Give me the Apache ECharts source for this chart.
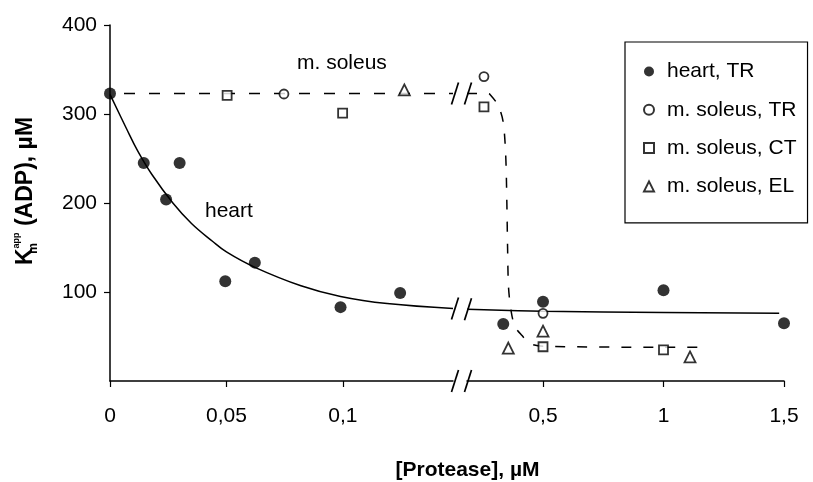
<!DOCTYPE html>
<html><head><meta charset="utf-8">
<script src="https://cdn.jsdelivr.net/npm/echarts@6/dist/echarts.min.js"></script>
<style>html,body{margin:0;padding:0;background:#fff}#c{width:813px;height:482px}</style>
</head><body><div id="c"></div>
<script>
// ---- data (x in µM protease, y = Km app (ADP) in µM) ----
const heartX = [0, 0.0145, 0.0241, 0.0299, 0.0495, 0.0622, 0.099, 0.1246, 0.335, 0.5, 1.0, 1.5];
const heartY = [323, 245, 204, 245, 112, 133, 83, 99, 64, 89, 102, 65];
const soleusTRX = [0.0747, 0.255, 0.5];
const soleusTRY = [322.5, 342, 76];
const soleusCTX = [0.0503, 0.0999, 0.255, 0.5, 1.0];
const soleusCTY = [321, 301, 308, 38.5, 35];
const soleusELX = [0.1264, 0.356, 0.5, 1.11];
const soleusELY = [327, 37, 56, 27];
// fitted curves
const heartFitLeftX = [0, 0.007, 0.012, 0.018, 0.027, 0.035, 0.044, 0.05, 0.062, 0.082, 0.099, 0.119, 0.1473];
const heartFitLeftY = [322, 284, 258, 232, 200, 177, 157, 145, 128, 107, 95, 87, 81.5];
const heartFitRightX = [0.1846, 0.5, 1.0, 1.48];
const heartFitRightY = [80.5, 78.5, 77, 76];
const soleusFitLeftX = [0, 0.1473];
const soleusFitLeftY = [323, 323];
const soleusFitRightX = [0.1846, 0.27, 0.28, 0.313, 0.334, 0.345, 0.35, 0.353, 0.357, 0.368, 0.384, 0.413, 0.446, 0.5, 1.0, 1.16];
const soleusFitRightY = [323, 323, 322, 310, 292, 255, 200, 150, 105, 78, 61, 51, 42, 39, 38, 38];
// axes
const xTicksLeft = [0, 0.05, 0.1];
const xTickLabelsLeft = ['0', '0,05', '0,1'];
const xTicksRight = [0.5, 1, 1.5];
const xTickLabelsRight = ['0,5', '1', '1,5'];
const yTicks = [100, 200, 300, 400];
const LEFT_MAX = 0.1473, RIGHT_MIN = 0.1846, RIGHT_MAX = 1.5;

const FONT = '"Liberation Sans", Arial, Helvetica, sans-serif';
const pairs = (xs, ys) => xs.map((x, i) => [x, ys[i]]);
const split = (xs, ys) => {
  const all = pairs(xs, ys);
  return [all.filter(p => p[0] <= LEFT_MAX), all.filter(p => p[0] > LEFT_MAX)];
};

const chart = echarts.init(document.getElementById('c'), null, {renderer: 'canvas'});

const markerDefs = [
  {name: 'heart, TR', xs: heartX, ys: heartY, symbol: 'circle', size: 12, itemStyle: {color: '#000', borderColor: '#000', borderWidth: 0}},
  {name: 'm. soleus, TR', xs: soleusTRX, ys: soleusTRY, symbol: 'circle', size: 9, itemStyle: {color: '#fff', borderColor: '#000', borderWidth: 1.8}},
  {name: 'm. soleus, CT', xs: soleusCTX, ys: soleusCTY, symbol: 'rect', size: 9, itemStyle: {color: '#fff', borderColor: '#000', borderWidth: 1.8}},
  {name: 'm. soleus, EL', xs: soleusELX, ys: soleusELY, symbol: 'triangle', size: 11, itemStyle: {color: '#fff', borderColor: '#000', borderWidth: 1.8}}
];

const series = [];
const lineBase = {type: 'line', showSymbol: false, symbol: 'none', silent: true, z: 2, animation: false};
series.push(Object.assign({}, lineBase, {name: 'heartFitL', xAxisIndex: 0, yAxisIndex: 0, smooth: 0.4,
  data: pairs(heartFitLeftX, heartFitLeftY), lineStyle: {color: '#000', width: 1.5}}));
series.push(Object.assign({}, lineBase, {name: 'heartFitR', xAxisIndex: 1, yAxisIndex: 1, smooth: 0.4,
  data: pairs(heartFitRightX, heartFitRightY), lineStyle: {color: '#000', width: 1.5}}));
series.push(Object.assign({}, lineBase, {name: 'soleusFitL', xAxisIndex: 0, yAxisIndex: 0,
  data: pairs(soleusFitLeftX, soleusFitLeftY), lineStyle: {color: '#000', width: 1.5, type: [11, 14], dashOffset: -14}}));
series.push(Object.assign({}, lineBase, {name: 'soleusFitR', xAxisIndex: 1, yAxisIndex: 1, smooth: 0.3,
  data: pairs(soleusFitRightX, soleusFitRightY), lineStyle: {color: '#000', width: 1.5, type: [10, 12]}}));

markerDefs.forEach(m => {
  const [l, r] = split(m.xs, m.ys);
  [[l, 0], [r, 1]].forEach(([d, gi]) => {
    series.push({type: 'scatter', name: m.name, xAxisIndex: gi, yAxisIndex: gi, data: d,
      symbol: m.symbol, symbolSize: m.size, itemStyle: m.itemStyle, z: 5, animation: false});
  });
});

const axisLabelStyle = {color: '#000', fontSize: 21, fontFamily: FONT};
const lineStyleAxis = {color: '#000', width: 1.5};

const option = {
  backgroundColor: '#fff',
  animation: false,
  grid: [
    {left: 110, top: 25, width: 343, bottom: 101, containLabel: false, outerBoundsMode: 'none'},
    {left: 467, top: 25, right: 29, bottom: 101, containLabel: false, outerBoundsMode: 'none'}
  ],
  xAxis: [
    {type: 'value', gridIndex: 0, min: 0, max: LEFT_MAX,
      axisLine: {show: true, lineStyle: lineStyleAxis},
      axisTick: {show: true, length: 6, customValues: xTicksLeft, lineStyle: {color: '#000', width: 1.2}},
      axisLabel: Object.assign({customValues: xTicksLeft, margin: 25,
        formatter: v => xTickLabelsLeft[xTicksLeft.indexOf(v)] ?? ''}, axisLabelStyle),
      splitLine: {show: false},
      name: '[Protease], µM', nameLocation: 'middle', nameGap: 79,
      nameTextStyle: {color: '#000', fontSize: 21, fontWeight: 'bold', fontFamily: FONT, padding: [0, 0, 0, 372]}
    },
    {type: 'value', gridIndex: 1, min: RIGHT_MIN, max: RIGHT_MAX,
      axisLine: {show: true, lineStyle: lineStyleAxis},
      axisTick: {show: true, length: 6, customValues: xTicksRight, lineStyle: {color: '#000', width: 1.2}},
      axisLabel: Object.assign({customValues: xTicksRight, margin: 25,
        formatter: v => xTickLabelsRight[xTicksRight.indexOf(v)] ?? ''}, axisLabelStyle),
      splitLine: {show: false}
    }
  ],
  yAxis: [
    {type: 'value', gridIndex: 0, min: 0, max: 400, interval: 100,
      axisLine: {show: true, lineStyle: lineStyleAxis},
      axisTick: {show: true, length: 6, customValues: yTicks, lineStyle: {color: '#000', width: 1.2}},
      axisLabel: Object.assign({customValues: yTicks, margin: 13}, axisLabelStyle),
      splitLine: {show: false},
      name: '{k|K}{sub|m}{sup|app}{t| (ADP), µM}', nameLocation: 'middle', nameGap: 70, nameRotate: 90,
      nameTextStyle: {color: '#000', fontFamily: FONT, padding: [0, 0, 0, 24],
        rich: {
          k: {fontSize: 23, fontWeight: 'bold', fontFamily: FONT, color: '#000', lineHeight: 28},
          sub: {fontSize: 12, fontWeight: 'bold', fontFamily: FONT, color: '#000', lineHeight: 10, verticalAlign: 'bottom', width: 0},
          sup: {fontSize: 9, fontWeight: 'bold', fontFamily: FONT, color: '#000', lineHeight: 10, verticalAlign: 'top'},
          t: {fontSize: 23, fontWeight: 'bold', fontFamily: FONT, color: '#000', lineHeight: 28}
        }}
    },
    {type: 'value', gridIndex: 1, min: 0, max: 400, interval: 100,
      axisLine: {show: false}, axisTick: {show: false}, axisLabel: {show: false}, splitLine: {show: false}}
  ],
  legend: {
    data: markerDefs.map(m => m.name),
    orient: 'vertical', left: 625, top: 42,
    itemWidth: 10, itemHeight: 10, itemGap: 17.3,
    padding: [19, 11, 26, 18],
    borderColor: '#000', borderWidth: 1.2, borderRadius: 0,
    selectedMode: false,
    textStyle: {color: '#000', fontSize: 21, fontFamily: FONT, lineHeight: 21, padding: [0, 0, 0, 8]}
  },
  series: series
};
chart.setOption(option);

// break marks, annotation labels
const g = [];
const slash = (x, y) => ({type: 'line', z: 20, silent: true,
  shape: {x1: x - 3.5, y1: y + 11, x2: x + 3.5, y2: y - 11}, style: {stroke: '#000', lineWidth: 1.7}});
const xl = chart.convertToPixel({gridIndex: 0}, [LEFT_MAX, 0])[0] + 2;
const xr = chart.convertToPixel({gridIndex: 1}, [RIGHT_MIN, 0])[0] + 1;
[[0, 0], [heartFitLeftY[heartFitLeftY.length - 1], heartFitRightY[0]], [soleusFitLeftY[1], soleusFitRightY[0]]].forEach(v => {
  const yl = chart.convertToPixel({gridIndex: 0}, [0, v[0]])[1];
  const yr = chart.convertToPixel({gridIndex: 1}, [RIGHT_MIN, v[1]])[1];
  g.push(slash(xl, yl));
  g.push(slash(xr, yr));
});
g.push({type: 'text', left: 297, top: 53, z: 20, style: {text: 'm. soleus', fill: '#000', font: '21px ' + FONT}});
g.push({type: 'text', left: 205, top: 201, z: 20, style: {text: 'heart', fill: '#000', font: '21px ' + FONT}});
chart.setOption({graphic: g});
</script>
</body></html>
